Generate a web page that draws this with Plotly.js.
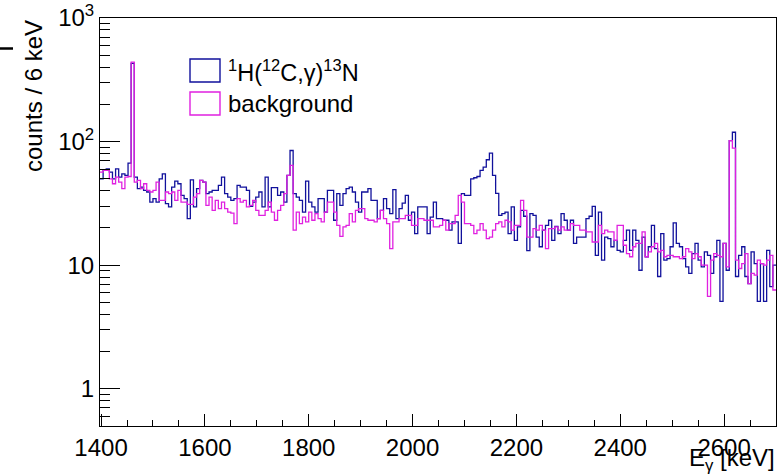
<!DOCTYPE html>
<html>
<head>
<meta charset="utf-8">
<script src="https://cdn.plot.ly/plotly-3.0.1.min.js"></script>
<style>html,body{margin:0;padding:0;background:#fff;}#chart{width:777px;height:476px;}</style>
</head>
<body>
<div id="chart"></div>
<script>
// Histogram binning (keV)
const binStart = 1398;
const binWidth = 6;

// 1H(12C,gamma)13N spectrum, counts per 6 keV bin
const signalCounts = [
50.0, 58.4, 60.2, 56.6, 50.0, 60.2, 51.6, 54.9, 53.2, 67,
430, 51.6, 41.6, 42.9, 40.3, 39.1, 32.4, 34.5, 32.4, 50.0,
54.9, 31.5, 29.6, 42.9, 47.9, 45.6, 36.7, 34.5, 23.8, 49.1,
29.6, 41.6, 48.5, 47.0, 37.9, 39.1, 40.3, 40.3, 44.2, 51.6,
37.9, 35.6, 33.5, 34.5, 44.2, 42.9, 42.9, 40.3, 29.9, 32.4,
35.6, 39.1, 29.6, 51.6, 29.6, 42.4, 42.4, 36.7, 39.1, 32.4,
53.2, 84.7, 37.9, 35.6, 33.5, 26.9, 47.9, 32.4, 29.6, 26.9,
34.5, 34.5, 26.9, 40.3, 40.3, 23.1, 37.9, 30.5, 37.9, 41.6,
42.9, 39.1, 32.4, 26.9, 39.1, 39.1, 41.6, 33.5, 33.5, 23.8,
27.8, 34.5, 28.7, 26.1, 40.8, 23.8, 28.7, 31.8, 36.7, 23.1,
26.9, 18.0, 29.6, 29.6, 29.6, 18.0, 24.5, 32.4, 23.8, 23.8,
23.1, 23.1, 19.2, 22.4, 22.4, 15.0, 37.9, 36.7, 36.7, 50.0,
51.0, 52.2, 58.4, 62.1, 71.3, 80.6, 53.2, 38.1, 25.3, 26.1,
26.9, 18.0, 29.6, 15.9, 20.4, 27.8, 24.9, 13.1, 26.1, 25.3,
16.9, 14.1, 19.2, 21.0, 23.1, 15.9, 20.6, 18.0, 26.1, 23.1,
19.2, 23.1, 15.0, 16.9, 16.9, 16.9, 23.8, 24.9, 29.9, 12.0,
26.9, 11.0, 16.9, 16.4, 14.1, 15.9, 13.2, 12.8, 15.9, 19.2,
13.2, 19.2, 15.9, 9.1, 16.9, 11.7, 14.1, 21.0, 13.6, 8.1,
18.0, 11.0, 11.3, 14.1, 22.0, 15.0, 14.1, 11.3, 9.7, 8.6,
12.4, 15.0, 11.0, 9.7, 12.8, 12.0, 8.6, 11.7, 15.9, 5.1,
15.0, 9.1, 102, 119, 8.1, 12.0, 14.1, 8.1, 7.1, 12.8,
10.3, 5.1, 10.3, 5.1, 13.2, 6.7, 10.0
];

// Background spectrum, counts per 6 keV bin
const backgroundCounts = [
56.6, 58.4, 58.4, 50.0, 45.6, 51.6, 47.0, 41.6, 51.6, 52.2,
440, 47.0, 48.5, 41.6, 45.6, 40.3, 39.1, 40.3, 47.0, 33.5,
33.5, 39.1, 37.9, 39.1, 33.5, 40.3, 32.4, 32.4, 31.1, 31.1,
35.6, 37.9, 48.5, 47.0, 30.5, 35.6, 27.8, 33.5, 28.7, 32.4,
28.7, 26.9, 26.4, 21.7, 34.5, 32.4, 33.5, 29.6, 30.5, 33.5,
27.8, 25.3, 25.3, 27.8, 32.4, 26.9, 23.1, 27.8, 30.5, 37.9,
53.2, 64.1, 19.2, 26.9, 21.7, 24.5, 22.4, 26.9, 23.1, 26.1,
23.8, 22.4, 26.9, 32.4, 32.4, 26.9, 21.0, 17.1, 20.4, 21.0,
26.1, 22.4, 27.8, 28.7, 28.7, 23.8, 23.1, 23.1, 22.4, 23.8,
27.8, 23.8, 21.7, 13.6, 22.4, 22.4, 23.8, 23.8, 25.3, 25.3,
21.0, 21.0, 23.8, 23.8, 23.1, 23.1, 23.1, 20.4, 20.4, 21.0,
23.1, 19.2, 21.7, 21.7, 25.3, 36.7, 32.4, 21.7, 21.7, 21.0,
18.0, 19.2, 21.7, 19.2, 16.4, 16.9, 19.2, 21.7, 22.4, 20.4,
23.1, 22.4, 19.2, 21.0, 21.0, 33.5, 27.8, 16.9, 16.9, 19.8,
19.2, 21.0, 19.2, 13.6, 19.8, 19.8, 20.4, 19.2, 20.4, 19.2,
19.2, 21.7, 21.0, 21.0, 19.2, 19.2, 18.6, 18.6, 15.4, 15.4,
21.0, 18.0, 19.2, 18.6, 18.6, 15.9, 21.0, 21.0, 14.5, 12.4,
11.7, 14.1, 15.0, 15.0, 18.6, 11.7, 12.8, 14.1, 15.0, 12.8,
13.2, 11.7, 12.0, 12.0, 11.7, 11.7, 11.3, 11.7, 13.6, 12.8,
11.3, 12.4, 11.7, 10.0, 10.0, 5.6, 11.0, 12.4, 12.0, 11.7,
15.0, 9.7, 102, 88.5, 11.0, 9.4, 10.3, 12.4, 7.1, 8.6,
8.3, 11.0, 10.3, 10.0, 11.0, 12.0, 6.3
];

const seriesNames = ['<sup>1</sup>H(<sup>12</sup>C,γ)<sup>13</sup>N', 'background'];
const yTickVals = [1, 10, 100, 1000];
const yTickText = ['1', '10', '10<sup>2</sup>', '10<sup>3</sup>'];

const BLUE = '#11119c';
const MAGENTA = '#e020e0';
const FONT = 'Liberation Sans, Arial, Helvetica, sans-serif';

function stepXY(counts) {
  const x = [], y = [];
  for (let i = 0; i < counts.length; i++) { x.push(binStart + i * binWidth); y.push(counts[i]); }
  x.push(binStart + counts.length * binWidth); y.push(counts[counts.length - 1]);
  return {x, y};
}
const s = stepXY(signalCounts), b = stepXY(backgroundCounts);

const traces = [
  {x: s.x, y: s.y, type: 'scatter', mode: 'lines', line: {shape: 'hv', color: BLUE, width: 1.3}, showlegend: false, hoverinfo: 'skip'},
  {x: b.x, y: b.y, type: 'scatter', mode: 'lines', line: {shape: 'hv', color: MAGENTA, width: 1.3}, showlegend: false, hoverinfo: 'skip'}
];

const minorY = [];
for (let e = -1; e <= 2; e++) for (let d = 2; d <= 9; d++) { const v = d * Math.pow(10, e); if (v > 0.5) minorY.push(v); }

// pixel helpers for the frame (plot area 100..776 x 18..426)
const px = v => (v - 100) / 676;
const py = v => (426 - v) / 408;

const layout = {
  width: 777, height: 476,
  margin: {l: 100, r: 1, t: 18, b: 50, pad: 0},
  paper_bgcolor: '#fff', plot_bgcolor: '#fff',
  font: {family: FONT, size: 24, color: '#000'},
  xaxis: {
    range: [1398, 2700], tick0: 1400, dtick: 200,
    ticks: 'inside', ticklen: 12, tickwidth: 1, tickcolor: '#000',
    showline: true, linecolor: '#000', linewidth: 1, mirror: true,
    showgrid: false, zeroline: false,
    tickfont: {family: FONT, size: 24, color: '#000'},
    minor: {tick0: 1400, dtick: 50, ticks: 'inside', ticklen: 6, tickwidth: 1, tickcolor: '#000', showgrid: false}
  },
  yaxis: {
    type: 'log', range: [Math.log10(0.5), 3],
    tickmode: 'array', tickvals: yTickVals, ticktext: yTickText,
    ticks: 'inside', ticklen: 20, tickwidth: 1, tickcolor: '#000',
    showline: true, linecolor: '#000', linewidth: 1, mirror: true,
    showgrid: false, zeroline: false,
    tickfont: {family: FONT, size: 24, color: '#000'},
    minor: {tickmode: 'array', tickvals: minorY, ticks: 'inside', ticklen: 10, tickwidth: 1, tickcolor: '#000', showgrid: false}
  },
  shapes: [
    {type: 'rect', xref: 'paper', yref: 'paper', x0: px(190), x1: px(220), y0: py(82), y1: py(59), line: {color: BLUE, width: 1.4}, fillcolor: 'rgba(0,0,0,0)'},
    {type: 'rect', xref: 'paper', yref: 'paper', x0: px(190), x1: px(220), y0: py(115), y1: py(92), line: {color: MAGENTA, width: 1.4}, fillcolor: 'rgba(0,0,0,0)'},
    {type: 'line', xref: 'paper', yref: 'paper', x0: px(0), x1: px(13), y0: py(48.5), y1: py(48.5), line: {color: '#000', width: 2.5}}
  ],
  annotations: [
    {xref: 'paper', yref: 'paper', x: px(226), y: py(71), xanchor: 'left', yanchor: 'middle', text: seriesNames[0], showarrow: false, font: {family: FONT, size: 23.5, color: '#000'}},
    {xref: 'paper', yref: 'paper', x: px(226), y: py(103.5), xanchor: 'left', yanchor: 'middle', text: seriesNames[1], showarrow: false, font: {family: FONT, size: 24, color: '#000'}},
    {xref: 'paper', yref: 'paper', x: px(33), y: 1, xanchor: 'center', yanchor: 'top', textangle: -90, text: 'counts / 6 keV', showarrow: false, font: {family: FONT, size: 24, color: '#000'}},
    {xref: 'paper', yref: 'paper', x: px(777), y: py(442), xanchor: 'right', yanchor: 'top', text: 'E<sub>γ</sub> [keV]', showarrow: false, font: {family: FONT, size: 24, color: '#000'}}
  ]
};

Plotly.newPlot('chart', traces, layout, {displayModeBar: false, staticPlot: true});
</script>
</body>
</html>
